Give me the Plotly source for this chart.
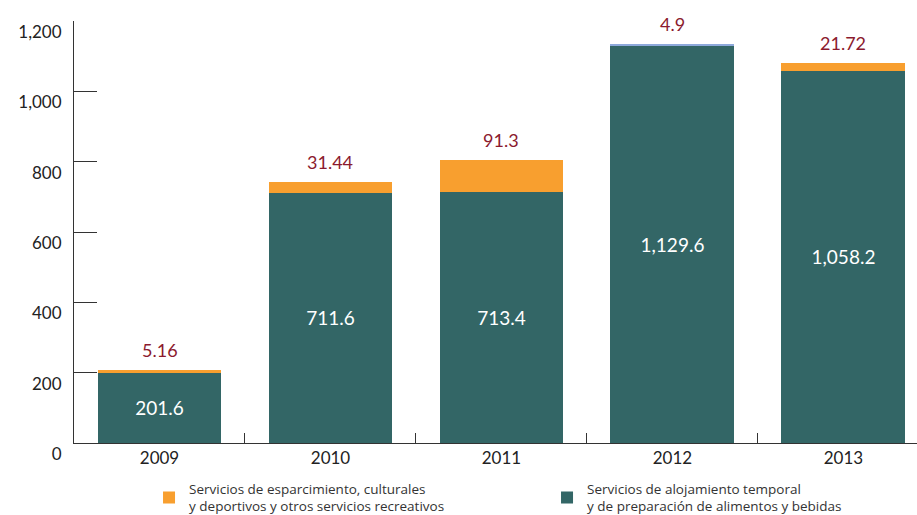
import plotly.graph_objects as go

years = ["2009", "2010", "2011", "2012", "2013"]
alojamiento = [201.6, 711.6, 713.4, 1129.6, 1058.2]
esparcimiento = [5.16, 31.44, 91.3, 4.9, 21.72]

name_esp = "Servicios de esparcimiento, culturales<br>y deportivos y otros servicios recreativos"
name_alo = "Servicios de alojamiento temporal<br>y de preparación de alimentos y bebidas"

TEAL = "#336666"
ORANGE = "#F89F2F"
LABEL_RED = "#8B1A2E"
FONT = "Lato"
LEGEND_FONT = "Open Sans"

esp_colors = [ORANGE, ORANGE, ORANGE, "#8EA9DB", ORANGE]

fig = go.Figure()
fig.add_trace(go.Bar(
    x=years, y=alojamiento, name=name_alo,
    marker=dict(color=TEAL, line=dict(width=0)),
    texttemplate="%{y:,.1f}", textposition="inside",
    insidetextanchor="middle",
    textfont=dict(color="white", size=19, family=FONT),
    width=0.725,
))
fig.add_trace(go.Bar(
    x=years, y=esparcimiento, name=name_esp,
    marker=dict(color=esp_colors, line=dict(width=0)),
    textposition="none",
    width=0.725,
))

# value labels above each stacked bar (category index on x)
for i, (a, e) in enumerate(zip(alojamiento, esparcimiento)):
    fig.add_annotation(
        x=i, y=a + e, text=str(e), showarrow=False,
        yanchor="bottom", yshift=7,
        font=dict(color=LABEL_RED, size=18, family=FONT),
    )

fig.update_layout(
    width=917, height=515,
    margin=dict(l=74, r=0, t=21, b=72, autoexpand=False),
    barmode="stack",
    plot_bgcolor="white", paper_bgcolor="white",
    font=dict(family=FONT, color="#222222"),
    showlegend=True,
    legend=dict(
        orientation="h", x=0.089, y=-0.072, xanchor="left", yanchor="top",
        traceorder="reversed", entrywidth=353, entrywidthmode="pixels",
        font=dict(size=13.5, family=LEGEND_FONT, color="#333333"),
        itemclick=False,
    ),
    xaxis=dict(
        range=[-0.5, 4.43], showline=True, linecolor="#333333", linewidth=1,
        ticks="inside", tickson="boundaries", ticklen=10, tickcolor="#333333",
        tickfont=dict(size=17, family=FONT, color="#222222"),
        showgrid=False, zeroline=False,
    ),
    yaxis=dict(
        range=[0, 1200], tickvals=[0, 200, 400, 600, 800, 1000, 1200],
        tickformat=",", showline=True, linecolor="#333333", linewidth=1,
        ticks="inside", ticklen=23, tickcolor="#333333",
        ticklabelshift=11, ticklabelstandoff=8,
        tickfont=dict(size=17, family=FONT, color="#222222"),
        showgrid=False, zeroline=False,
    ),
)

fig.write_html("out.html")
